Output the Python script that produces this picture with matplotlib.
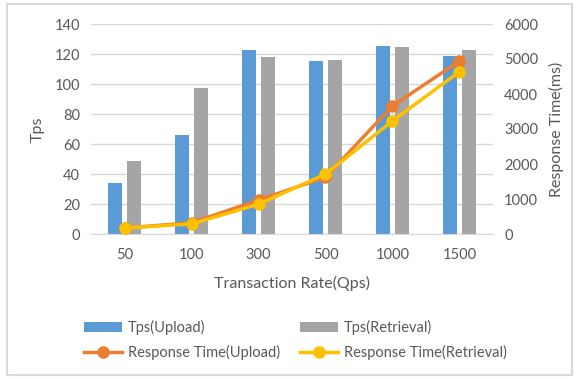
import numpy as np
import matplotlib
matplotlib.use("Agg")
import matplotlib.pyplot as plt
from matplotlib.patches import Rectangle

# --- Data ---
rates = ["50", "100", "300", "500", "1000", "1500"]
tps_upload = [34, 66, 122.5, 115.5, 125.5, 118.7]
tps_retrieval = [49, 97.5, 118.2, 116, 124.9, 122.7]
rt_upload = [170, 320, 970, 1620, 3660, 4940]
rt_retrieval = [170, 290, 850, 1710, 3230, 4640]

BLUE = "#5B9BD5"
GRAY = "#A5A5A5"
ORANGE = "#ED7D31"
YELLOW = "#FFC000"
TXT = "#595959"
GRID = "#D9D9D9"

plt.rcParams["font.family"] = ["Lato", "DejaVu Sans"]
plt.rcParams["font.size"] = 10

fig = plt.figure(figsize=(5.79, 3.79), dpi=100)
ax1 = fig.add_axes([91 / 579, 1 - 234 / 379, 402 / 579, 210 / 379])
ax2 = ax1.twinx()

x = np.arange(len(rates))
w = 0.22
ax1.bar(x - 0.14, tps_upload, w, color=BLUE, label="Tps(Upload)", zorder=2)
ax1.bar(x + 0.14, tps_retrieval, w, color=GRAY, label="Tps(Retrieval)", zorder=2)

ax2.plot(x, rt_upload, color=ORANGE, lw=2.5, marker="o", ms=8,
         label="Response Time(Upload)")
ax2.plot(x, rt_retrieval, color=YELLOW, lw=2.5, marker="o", ms=8,
         label="Response Time(Retrieval)")

ax1.set_xlim(-0.5, len(rates) - 0.5)
ax1.set_ylim(0, 140)
ax1.set_yticks(range(0, 141, 20))
ax2.set_ylim(0, 6000)
ax2.set_yticks(range(0, 6001, 1000))
ax1.set_xticks(x)
ax1.set_xticklabels(rates)

ax1.yaxis.grid(True, color=GRID, lw=1, zorder=0)
ax1.set_axisbelow(True)
for ax in (ax1, ax2):
    for s in ax.spines.values():
        s.set_visible(False)
    ax.tick_params(length=0, colors=TXT, labelsize=10.5)
ax1.spines["bottom"].set_visible(True)
ax1.spines["bottom"].set_color(GRID)
ax1.tick_params(axis="x", pad=10)
ax1.tick_params(axis="y", pad=8)
ax2.tick_params(axis="y", pad=8)

ax1.set_ylabel("Tps", color=TXT, fontsize=11.5, labelpad=7)
ax2.set_ylabel("Response Time(ms)", color=TXT, fontsize=11.5, labelpad=8)
ax1.set_xlabel("Transaction Rate(Qps)", color=TXT, fontsize=11.5, labelpad=10)

h1, l1 = ax1.get_legend_handles_labels()
h2, l2 = ax2.get_legend_handles_labels()
handles = [h1[0], h2[0], h1[1], h2[1]]
labels = [l1[0], l2[0], l1[1], l2[1]]
leg = fig.legend(handles, labels, ncol=2, loc="center", bbox_to_anchor=(0.51, 1 - 340 / 379),
                 frameon=False, handlelength=2.6, columnspacing=1.4,
                 handletextpad=0.4, labelspacing=0.7, fontsize=10.5)
for t in leg.get_texts():
    t.set_color(TXT)

# outer frame
fig.patches.append(Rectangle((7 / 579, 4 / 379), 565 / 579, 371 / 379,
                             transform=fig.transFigure, fill=False,
                             edgecolor=GRID, lw=1.5))

fig.savefig("out.png", dpi=100)
